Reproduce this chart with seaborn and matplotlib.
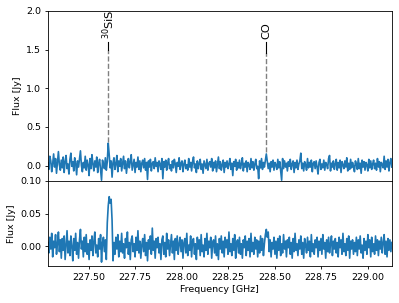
import numpy as np
import matplotlib
matplotlib.use("Agg")
import matplotlib.pyplot as plt
import seaborn as sns

# channel grid of the spectral window (GHz)
freq_start = 227.28
freq_end = 229.13

# flux per channel, mJy
flux_top_mjy = [
    30, -50, 120, 60, -80, 20, 150, -20, 90, -100, 40, 180, 10, -60, 70, -30, 110, -90, 50, 130,
    -40, 20, -110, 80, 160, -10, 50, -70, 100, 30, -120, 60, -20, 90, 190, 0, -80, 40, -30, 120,
    -60, 70, 10, -130, 90, -40, 140, 20, -70, 60, -20, 110, -90, 30, 80, -50, -190, 70, 20, -40,
    100, -60, 50, 290, 140, -30, 60, -150, 40, 100, -50, 20, 130, -80, 60, -10, 90, -70, 30, 120,
    -40, 60, -100, 20, 90, -30, 50, 140, -60, 10, 80, -90, 40, -20, 110, -50, 60, -80, 30, 70,
    -30, 90, -60, 40, -180, 60, -20, 80, -70, 30, 50, -40, 100, -10, 40, -80, 60, 20, -50, 90,
    -170, 50, -20, 70, -60, 30, 90, -40, 10, -70, 60, -30, 80, 20, -90, 40, -10, 100, -50, 30,
    60, -80, 20, 70, -40, 10, -60, 90, -20, 40, -70, 50, 110, -30, 20, -90, 60, -40, 30, 80,
    -50, 20, -100, 60, 10, -40, 80, -60, 30, 50, -20, 90, -70, 40, -30, 60, -80, 20, 110, -40,
    50, -60, 10, 70, -90, 40, -20, 60, -40, 20, 90, -50, 30, -130, 50, -10, 80, -60, 40, -30,
    70, -40, 20, 100, -70, 30, -20, 60, -80, 40, 10, -50, 90, -30, 50, -60, 20, 80, -40, -10,
    -170, 60, -30, 90, -50, 40, -20, 70, 150, 60, -40, 30, -80, 50, -20, 70, -60, 40, 10, -50,
    80, -30, 50, -70, -190, 90, -40, 60, -20, 30, -70, 50, -10, 80, -50, 20, 60, -90, 40, -30,
    70, -50, 20, 60, 160, -40, 30, -70, 50, 10, -60, 90, -30, 40, -20, 70, -80, 30, 50, -40,
    60, -20, -110, 40, 80, -50, 20, -30, 70, -60, 40, 10, -40, 90, 130, -70, 30, -20, 60, -50,
    20, 80, -60, 40, -30, 70, -90, 50, 10, -40, 60, -20, 100, -70, 30, -50, 80, -30, 40, -10,
    -80, 60, 20, -50, 90, -40, 30, -100, 70, -20, 50, -60, 40, 10, -70, 80, -30, 60, -50, 20,
    70, -40, 30, -60, 90, -20, 50, -80, 40, 10, -30, 120, -50, 60, -20, 80, -70, 40, 90, -20,
]

flux_bottom_mjy = [
    6, -10, 14, -4, 20, -16, 8, -2, 18, -12, 4, 22, -8, 10, -18, 12, -6, 16, -20, 2,
    24, -10, 8, -14, 16, 0, -22, 12, -6, 20, -12, 6, -18, 10, 26, -4, 8, -16, 14, -8,
    18, -12, 4, -20, 10, -6, 16, -14, 8, 22, -10, 2, -16, 12, -4, 18, -24, 6, 14, -8,
    10, -20, 36, 62, 76, 66, 72, 40, -22, 6, -12, 14, -4, 18, -16, 8, -8, 20, -10, 4,
    -18, 12, -2, 22, -12, 6, -20, 10, 16, -8, 4, -16, 14, -6, 24, -10, 8, -18, 2, 12,
    -8, 18, -14, 6, -22, 10, -4, 16, -12, 28, -6, 8, -18, 12, -2, 14, -10, 4, -20, 10,
    16, -12, 6, -16, 20, -4, 10, -14, 2, 18, -10, 8, -20, 12, -6, 16, -12, 4, 14, -8,
    10, -18, 6, 12, -10, 20, -14, 2, -6, 16, -16, 8, 12, -12, 4, -20, 14, -4, 10, -14,
    18, -8, 2, -16, 12, -6, 20, -12, 8, -2, 14, -18, 6, 10, -10, 16, -14, 4, -20, 12,
    -4, 16, -10, 8, -16, 14, -2, 10, -12, 22, -8, 4, -14, 12, -6, 18, -18, 6, 10, -10,
    14, -12, 4, -18, 10, -2, 16, -14, 8, -6, 12, -16, 20, -8, 6, -12, 14, -4, 10, -16,
    8, -10, 16, -6, 12, -14, 4, 18, 26, 14, 22, -8, 10, -16, 6, -4, 14, -12, 8, -18,
    12, -6, 16, -14, 4, -10, 18, -4, 8, -16, 10, -2, 14, -12, 6, -18, 12, -8, 20, -6,
    4, -14, 10, -4, 16, -12, 6, -18, 12, 2, -10, 14, -6, 8, -16, 18, -8, 4, -12, 10,
    -2, 14, -16, 8, -6, 12, -12, 18, -4, 6, -18, 10, -8, 14, -10, 4, 16, -14, 8, -4,
    12, -10, 6, -16, 14, -2, 10, -12, 20, -8, 4, -14, 12, -6, 16, -18, 8, -4, 10, -12,
    6, -8, 14, -14, 10, -4, 16, -10, 2, -18, 12, -6, 8, -12, 18, -2, 10, -16, 14, -8,
    4, -12, 16, -6, 10, -14, 8, -4, 14, -10, 6, 18, -12, 8, -16, 12, -6, 10, -8, 6,
]

# line identifications
line_names = [r"$^{30}$SiS", "CO"]
line_freqs = [227.605, 228.455]
line_peaks = [0.30, 0.17]
line_dash_tops = [1.5, 1.45]

freq = np.linspace(freq_start, freq_end, len(flux_top_mjy))
flux_top = np.array(flux_top_mjy) / 1000.0
flux_bottom = np.array(flux_bottom_mjy) / 1000.0

plt.rcParams.update({
    "font.size": 6.8,
    "axes.linewidth": 0.6,
    "xtick.major.size": 2.4,
    "ytick.major.size": 2.4,
    "xtick.major.width": 0.6,
    "ytick.major.width": 0.6,
    "xtick.major.pad": 2.4,
    "ytick.major.pad": 2.4,
    "axes.labelpad": 2.7,
})

fig = plt.figure(figsize=(3.99, 3.03), dpi=100)
gs = fig.add_gridspec(2, 1, height_ratios=[2, 1], hspace=0)
ax1 = fig.add_subplot(gs[0])
ax2 = fig.add_subplot(gs[1], sharex=ax1)
fig.subplots_adjust(left=0.12, right=0.982, top=0.964, bottom=0.122)

sns.lineplot(x=freq, y=flux_top, ax=ax1, color="#1f77b4", lw=1.2,
             estimator=None, sort=False)
sns.lineplot(x=freq, y=flux_bottom, ax=ax2, color="#1f77b4", lw=1.2,
             estimator=None, sort=False)

for name, f, peak, dtop in zip(line_names, line_freqs, line_peaks, line_dash_tops):
    ax1.plot([f, f], [peak, dtop], "--", color="gray", lw=1.0)
    ax1.plot([f, f], [dtop, 1.6], "-", color="black", lw=0.8)
    ax1.text(f, 1.64, name, rotation=90, ha="center", va="bottom", fontsize=8.2)

ax1.set_xlim(freq_start, freq_end)
ax1.set_ylim(-0.2, 2.0)
ax1.set_yticks([0.0, 0.5, 1.0, 1.5, 2.0])
ax1.set_ylabel("Flux [Jy]")
ax1.tick_params(labelbottom=False)

ax2.set_ylim(-0.03, 0.10)
ax2.set_yticks([0.00, 0.05, 0.10])
ax2.set_xticks([227.5, 227.75, 228.0, 228.25, 228.5, 228.75, 229.0])
ax2.set_ylabel("Flux [Jy]")
ax2.set_xlabel("Frequency [GHz]")

fig.savefig("out.png", dpi=100)
